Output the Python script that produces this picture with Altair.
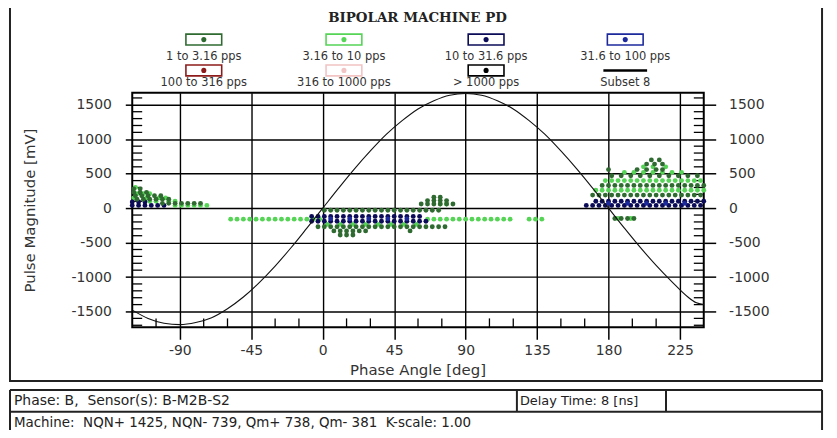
import altair as alt
import pandas as pd

# ---------------- data ----------------
SERIES = ["1 to 3.16 pps", "3.16 to 10 pps", "10 to 31.6 pps", "31.6 to 100 pps",
          "100 to 316 pps", "316 to 1000 pps", "> 1000 pps"]
SERIES_COLORS = ["#2f6b31", "#55d455", "#0b0b58", "#1d2a9c", "#8e1b1b", "#f2c4c4", "#000000"]

# each row: (pulse magnitude mV, [phase angles deg])
S1_ROWS = [  # 1 to 3.16 pps
    (280, [-119, -115]),
    (230, [-119, -115, -111]),
    (180, [-118, -114, -110, -106, -102]),
    (130, [-117, -113, -109, -105, -101, -97]),
    (70, [-101, -97, -93, -89, -85, -81, -77]),
    (-30, [1, 5, 9, 13, 17, 21, 25, 29, 33, 37, 41, 45, 49, 53, 57, 61, 65, 69, 73]),
    (-270, [-3, 1, 5, 9, 13, 17, 21, 25, 29, 33, 37, 41, 45, 49, 53, 57, 61, 65, 69, 73, 77]),
    (-330, [7, 11, 15, 19, 23, 27, 55]),
    (-390, [11, 15, 19]),
    (160, [70, 74]),
    (110, [66, 70, 74, 78]),
    (60, [62, 66, 70, 74, 78, 82]),
    (470, [182, 188, 194, 200, 206, 212, 218, 224, 230, 236]),
    (330, [176, 180, 184, 188, 192, 196, 200, 204, 208, 212, 216, 220, 224, 228, 232, 236, 240]),
    (190, [170, 174, 178, 182, 186, 190, 194, 198, 202, 206, 210, 214, 218, 222, 226, 230, 234, 238]),
    (560, [180, 198, 204, 210, 214]),
    (640, [204, 209, 214]),
    (700, [207, 212]),
    (-150, [184, 188, 192, 196]),
]
S2_ROWS = [  # 3.16 to 10 pps
    (300, [-118]),
    (210, [-117, -113, -109]),
    (150, [-119, -111, -103, -99]),
    (100, [-109, -105, -97, -93]),
    (40, [-93, -89, -85, -81, -77, -73]),
    (-160, [-58, -54, -50, -46, -42, -38, -34, -30, -26, -22, -18, -14, -10, -6, -2,
            66, 70, 74, 78, 82, 86, 90, 94, 98, 102, 106, 110, 114, 118, 130, 134, 138]),
    (-235, [3, 11, 19, 27, 35, 43, 51, 59]),
    (60, [74, 78]),
    (400, [178, 182, 186, 190, 194, 198, 202, 206, 210, 214, 218, 222, 226, 230, 234, 238]),
    (260, [172, 176, 180, 184, 188, 192, 196, 200, 204, 208, 212, 216, 220, 224, 228, 232, 236, 240]),
    (520, [190, 196, 202, 208, 214, 220, 226]),
    (600, [202, 208, 216]),
    (-150, [186, 194]),
]
S3_ROWS = [  # 10 to 31.6 pps
    (90, [-120, -116, -112]),
    (40, [-120, -116, -112, -108, -104, -100]),
    (-120, [-7, -3, 1, 5, 9, 13, 17, 21, 25, 29, 33, 37, 41, 45, 49, 53, 57, 61]),
    (-190, [-7, -3, 1, 5, 9, 13, 17, 21, 25, 29, 33, 37, 41, 45, 49, 53, 57, 61, 65]),
    (100, [172, 176, 180, 184, 188, 192, 196, 200, 204, 208, 212, 216, 220, 224, 228, 232, 236, 240]),
    (40, [166, 170, 174, 178, 182, 186, 190, 194, 198, 202, 206, 210, 214, 218, 222, 226, 230, 234, 238]),
]
S4_ROWS = [  # 31.6 to 100 pps
    (-155, [5, 17, 29, 41, 53]),
    (70, [180, 192, 204, 216, 228]),
]

# reference sine ("Subset 8")
CURVE_PHASE = [-120, -110, -100, -90, -80, -70, -60, -50, -40, -30, -20, -10, 0, 10, 20, 30, 40,
               50, 60, 70, 80, 90, 100, 110, 120, 130, 140, 150, 160, 170, 180, 190, 200, 210,
               220, 230, 235, 240]
CURVE_MV = [-1480, -1600, -1670, -1690, -1660, -1590, -1460, -1290, -1080, -840, -575, -290, 0,
            290, 570, 830, 1070, 1270, 1440, 1560, 1640, 1665, 1640, 1560, 1440, 1270, 1070, 830,
            570, 290, 0, -290, -570, -830, -1070, -1290, -1370, -1400]

X_MAJOR = [-90, -45, 0, 45, 90, 135, 180, 225]
X_MINOR = [-105, -75, -60, -30, -15, 15, 30, 60, 75, 105, 120, 150, 165, 195, 210]
Y_MAJOR = [-1500, -1000, -500, 0, 500, 1000, 1500]
Y_MINOR = [-1700, -1600, -1400, -1300, -1200, -1100, -900, -800, -700, -600, -400, -300, -200,
           -100, 100, 200, 300, 400, 600, 700, 800, 900, 1100, 1200, 1300, 1400, 1600]

TITLE = "BIPOLAR MACHINE PD"
INFO_ROW1 = "Phase: B,  Sensor(s): B-M2B-S2"
INFO_DELAY = "Delay Time: 8 [ns]"
INFO_ROW2 = "Machine:  NQN+ 1425, NQN- 739, Qm+ 738, Qm- 381  K-scale: 1.00"

# ---------------- build tables ----------------
recs = []
for name, rows in [(SERIES[1], S2_ROWS), (SERIES[2], S3_ROWS), (SERIES[3], S4_ROWS), (SERIES[0], S1_ROWS)]:
    for mv, phases in rows:
        for ph in phases:
            recs.append({"series": name, "phase": ph, "mv": mv})
pulses = pd.DataFrame(recs)
curve_df = pd.DataFrame({"phase": CURVE_PHASE, "mv": CURVE_MV})
xminor_df = pd.DataFrame({"v": X_MINOR})
yminor_df = pd.DataFrame({"v": Y_MINOR})
ONE = pd.DataFrame({"k": [0]})

# ---------------- layout ----------------
W, H = 575, 236
FONT = "DejaVu Sans"
XS = alt.Scale(domain=[-120, 240], nice=False, zero=False)
YS = alt.Scale(domain=[-1730, 1675], nice=False, zero=False)

X_AXIS = alt.Axis(values=X_MAJOR, grid=True, gridColor="black", gridWidth=1.4, domain=False,
                  tickSize=12, tickColor="black", tickWidth=1.5, labelFont=FONT, labelFontSize=14,
                  labelColor="#333", labelPadding=4, labelExpr="'' + datum.value",
                  title="Phase Angle [deg]", titleFont=FONT, titleFontSize=15,
                  titleFontWeight="normal", titleColor="#333", titleX=287, titleY=42,
                  titleBaseline="middle", titleAlign="center")
Y_LEFT = alt.Axis(values=Y_MAJOR, orient="left", grid=True, gridColor="black", gridWidth=1.4,
                  domain=False, tickSize=7, tickColor="black", tickWidth=1.5, labelFont=FONT,
                  labelFontSize=14, labelColor="#333", labelPadding=14,
                  labelExpr="'' + datum.value", title="Pulse Magnitude [mV]", titleFont=FONT,
                  titleFontSize=15, titleFontWeight="normal", titleColor="#333", titleX=-103,
                  titleY=118, titleAngle=270, titleAlign="center", titleBaseline="middle")
Y_RIGHT = alt.Axis(values=Y_MAJOR, orient="right", grid=False, domain=False, tickSize=12,
                   tickColor="black", tickWidth=1.5, labelFont=FONT, labelFontSize=14,
                   labelColor="#333", labelPadding=13, labelExpr="'' + datum.value", title="")


def seg(x1, y1, x2, y2, w=2.0, color="#222"):
    return alt.Chart(ONE).mark_rule(color=color, strokeWidth=w).encode(
        x=alt.value(x1), x2=alt.value(x2), y=alt.value(y1), y2=alt.value(y2))


def txt(x, y, s, size=12, align="left", font=FONT, weight="normal", color="#222"):
    s = s.replace("  ", "\u00a0 ")  # keep the double spaces visible in SVG
    return alt.Chart(ONE).mark_text(align=align, baseline="middle", font=font, fontSize=size,
                                    fontWeight=weight, color=color).encode(
        x=alt.value(x), y=alt.value(y), text=alt.value(s))


layers = []
# outer frame + info table
layers.append(alt.Chart(ONE).mark_rect(fillOpacity=0, stroke="#222", strokeWidth=2).encode(
    x=alt.value(-123), x2=alt.value(694), y=alt.value(-87), y2=alt.value(290)))
layers += [
    seg(-123, 299, 694, 299), seg(-123, 321, 694, 321),
    seg(-123, 299, -123, 340), seg(694, 299, 694, 340),
    seg(387, 299, 387, 321), seg(537, 299, 537, 321),
    txt(-119, 310, INFO_ROW1, 14), txt(390, 310, INFO_DELAY, 13), txt(-119, 332, INFO_ROW2, 13.5),
]
# title
layers.append(txt(287, -75, TITLE, 13.5, align="center", font="DejaVu Serif", weight="bold"))
# legend
LEG_COL_X = [72, 213, 356, 496]
LEG_BOX_Y = [-59, -28]
LEG_LABEL_Y = [-36, -10]
for i, (name, col) in enumerate(zip(SERIES, SERIES_COLORS)):
    cx = LEG_COL_X[i % 4]
    by = LEG_BOX_Y[i // 4]
    layers.append(alt.Chart(ONE).mark_rect(fill="white", stroke=col, strokeWidth=1.6).encode(
        x=alt.value(cx - 18), x2=alt.value(cx + 18), y=alt.value(by), y2=alt.value(by + 11)))
    layers.append(alt.Chart(ONE).mark_circle(size=26, color=col, opacity=1).encode(
        x=alt.value(cx), y=alt.value(by + 5.5)))
    layers.append(txt(cx, LEG_LABEL_Y[i // 4], name, 11.5, align="center", color="#333"))
layers.append(seg(LEG_COL_X[3] - 22, LEG_BOX_Y[1] + 5.5, LEG_COL_X[3] + 22, LEG_BOX_Y[1] + 5.5, 2.5, "black"))
layers.append(txt(LEG_COL_X[3], LEG_LABEL_Y[1], "Subset 8", 11.5, align="center", color="#333"))

# minor ticks
layers.append(alt.Chart(yminor_df).mark_rule(color="black", strokeWidth=1.3).encode(
    y=alt.Y("v:Q", scale=YS, axis=None), x=alt.value(0), x2=alt.value(10)))
layers.append(alt.Chart(yminor_df).mark_rule(color="black", strokeWidth=1.3).encode(
    y=alt.Y("v:Q", scale=YS, axis=None), x=alt.value(W - 10), x2=alt.value(W)))
layers.append(alt.Chart(xminor_df).mark_rule(color="black", strokeWidth=1.3).encode(
    x=alt.X("v:Q", scale=XS, axis=None), y=alt.value(H - 9), y2=alt.value(H)))

# pulses
layers.append(alt.Chart(pulses).mark_circle(size=24, opacity=1).encode(
    x=alt.X("phase:Q", scale=XS, axis=X_AXIS),
    y=alt.Y("mv:Q", scale=YS, axis=Y_LEFT),
    color=alt.Color("series:N", scale=alt.Scale(domain=SERIES[:4], range=SERIES_COLORS[:4]),
                    legend=None),
))
# sine curve
layers.append(alt.Chart(curve_df).mark_line(color="#111", strokeWidth=1.1, interpolate="monotone").encode(
    x=alt.X("phase:Q", scale=XS, axis=None),
    y=alt.Y("mv:Q", scale=YS, axis=Y_RIGHT),
))

chart = alt.layer(*layers).resolve_axis(x="independent", y="independent").properties(
    width=W, height=H,
    autosize=alt.AutoSizeParams(type="none"),
    padding={"left": 125, "top": 84, "right": 126, "bottom": 102},
    background="white",
).configure_view(stroke="black", strokeWidth=2)

chart.save("out.html", embed_options={"renderer": "svg", "actions": False})
